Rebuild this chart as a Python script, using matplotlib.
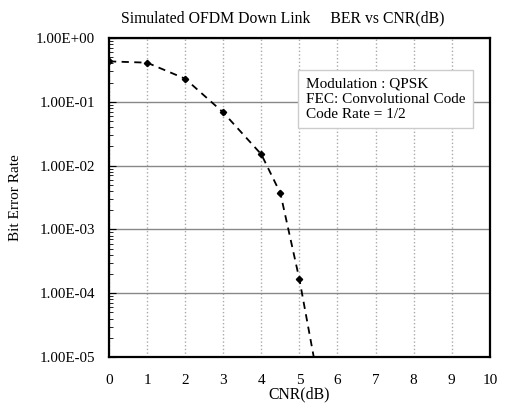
import numpy as np
import matplotlib.pyplot as plt
from matplotlib.ticker import LogLocator

plt.rcParams['font.family'] = ['Liberation Serif', 'DejaVu Serif']

cnr = [0, 1, 2, 3, 4, 4.5, 5, 5.5]
ber = [0.43, 0.41, 0.23, 0.068, 0.015, 0.0037, 0.000165, 0.000004]
yticks = [1e0, 1e-1, 1e-2, 1e-3, 1e-4, 1e-5]
ylabels = ['1.00E+00', '1.00E-01', '1.00E-02', '1.00E-03', '1.00E-04', '1.00E-05']

fig = plt.figure(figsize=(5.06, 4.04), dpi=100)
ax = fig.add_axes([0.2154, 0.1163, 0.7526, 0.7897])

ax.semilogy(cnr[:-1], ber[:-1], color='black', linestyle='none', marker='D', markersize=3.2, zorder=3)
ax.semilogy(cnr, ber, color='black', linestyle=(0, (4, 3)), linewidth=1.3, zorder=3)

ax.set_xlim(0, 10)
ax.set_ylim(1e-5, 1)
ax.set_xticks(range(0, 11))
ax.set_yticks(yticks)
ax.set_yticklabels(ylabels)
ax.yaxis.set_minor_locator(LogLocator(base=10, subs=np.arange(2, 10), numticks=20))
ax.yaxis.set_minor_formatter(plt.NullFormatter())

ax.grid(True, which='major', axis='y', color='#888888', linewidth=1.0)
ax.grid(True, which='major', axis='x', color='#aaaaaa', linestyle=':', linewidth=1.0)
ax.tick_params(axis='x', length=0, pad=12, labelsize=11)
ax.tick_params(axis='y', which='major', direction='in', length=5, pad=10, labelsize=10.8)
ax.tick_params(axis='y', which='minor', direction='in', length=3)
for s in ax.spines.values():
    s.set_linewidth(1.6)

ax.set_xlabel('CNR(dB)', fontsize=11.3, labelpad=0)
ax.set_ylabel('Bit Error Rate', fontsize=11, labelpad=10)
fig.text(0.559, 0.955, 'Simulated OFDM Down Link     BER vs CNR(dB)', fontsize=11.3,
         ha='center', va='center')

ax.text(0.517, 0.875, 'Modulation : QPSK\nFEC: Convolutional Code\nCode Rate = 1/2',
        transform=ax.transAxes, fontsize=11, va='top', ha='left', linespacing=1.2,
        bbox=dict(boxstyle='square,pad=0.5', facecolor='white', edgecolor='#cccccc'), zorder=5)

plt.savefig('out.png', dpi=100)
